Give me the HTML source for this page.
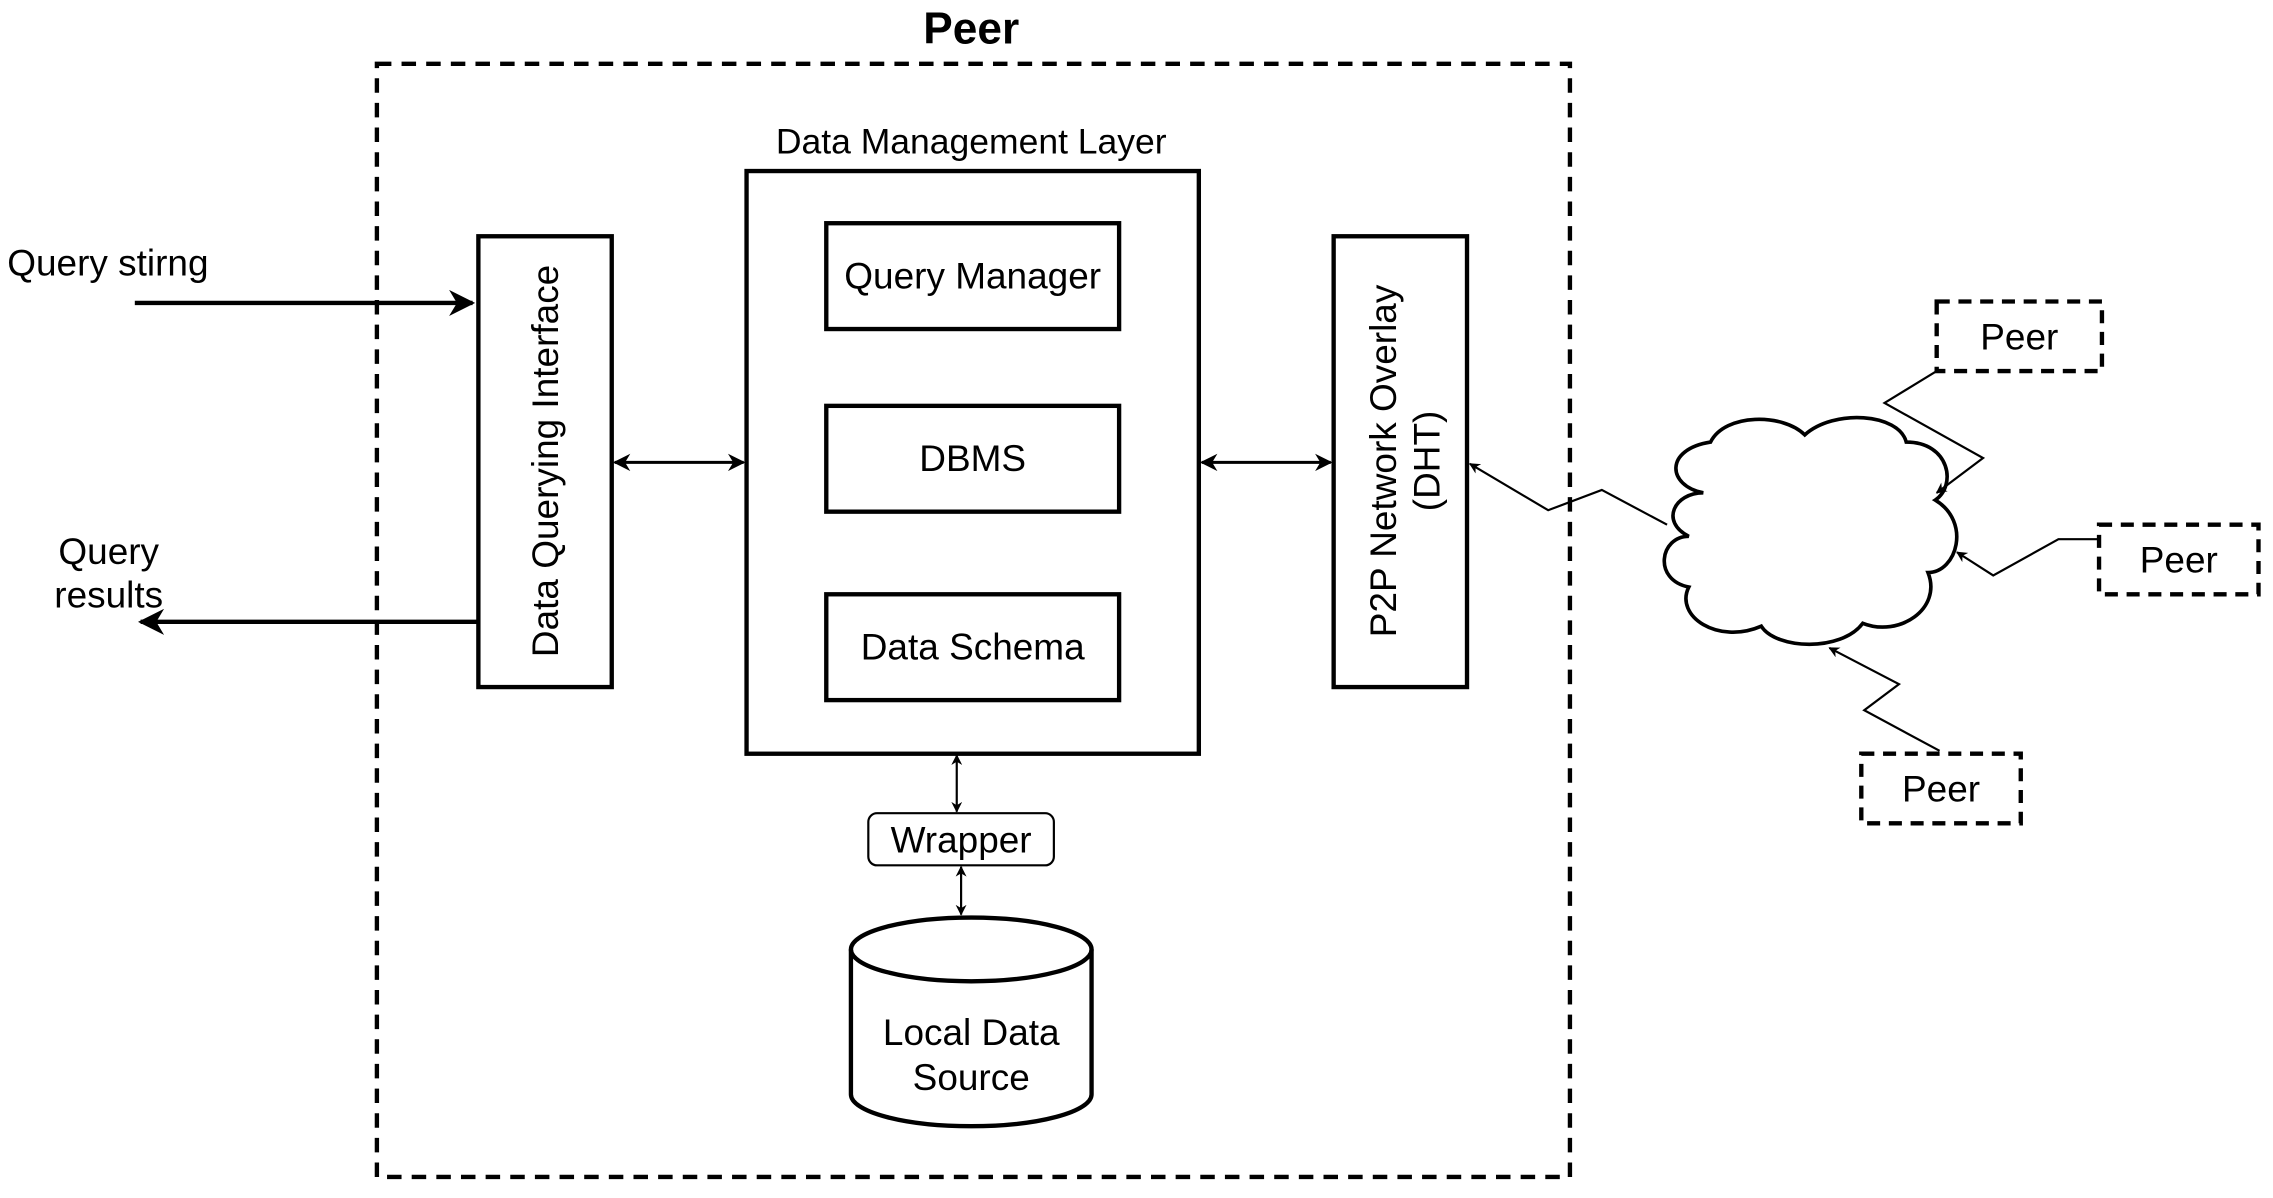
<!DOCTYPE html>
<html><head><meta charset="utf-8"><style>
html,body{margin:0;padding:0;background:#fff;}
svg{display:block;}
text{font-family:"Liberation Sans",Arial,sans-serif;fill:#000;}
</style></head><body>
<svg width="2273" height="1198" viewBox="0 0 1568 826.5" preserveAspectRatio="none" xmlns="http://www.w3.org/2000/svg">
<defs>
<marker id="a" viewBox="0 0 10 10" refX="9" refY="5" markerWidth="6" markerHeight="6" orient="auto-start-reverse"><path d="M0,0 L10,5 L0,10 L3,5 z" fill="#000"/></marker>
<marker id="b" viewBox="0 0 10 10" refX="9" refY="5" markerWidth="5" markerHeight="5" orient="auto-start-reverse"><path d="M0,0 L10,5 L0,10 L3,5 z" fill="#000"/></marker>
</defs>
<rect width="1568" height="826.5" fill="#fff"/>
<text x="670" y="30" font-size="30.5" font-weight="bold" text-anchor="middle">Peer</text>
<rect x="260" y="44" width="823" height="768" fill="none" stroke="#000" stroke-width="3" stroke-dasharray="10 7"/>
<text x="670" y="106" font-size="24.5" text-anchor="middle">Data Management Layer</text>
<rect x="515" y="118" width="312" height="402" fill="none" stroke="#000" stroke-width="3"/>
<rect x="570" y="154" width="202" height="73" fill="none" stroke="#000" stroke-width="3"/>
<text x="671" y="199" font-size="25.5" text-anchor="middle">Query Manager</text>
<rect x="570" y="280" width="202" height="73" fill="none" stroke="#000" stroke-width="3"/>
<text x="671" y="325" font-size="25.5" text-anchor="middle">DBMS</text>
<rect x="570" y="410" width="202" height="73" fill="none" stroke="#000" stroke-width="3"/>
<text x="671" y="455" font-size="25.5" text-anchor="middle">Data Schema</text>
<rect x="330" y="163" width="92" height="311" fill="none" stroke="#000" stroke-width="3"/>
<text transform="translate(385,318) rotate(-90)" font-size="25.5" text-anchor="middle">Data Querying Interface</text>
<rect x="920" y="163" width="92" height="311" fill="none" stroke="#000" stroke-width="3"/>
<text transform="translate(963,318) rotate(-90)" font-size="25.5" text-anchor="middle">P2P Network Overlay</text>
<text transform="translate(993,318) rotate(-90)" font-size="25.5" text-anchor="middle">(DHT)</text>
<line x1="424" y1="319" x2="513" y2="319" stroke="#000" stroke-width="2" marker-start="url(#a)" marker-end="url(#a)"/>
<line x1="829" y1="319" x2="918" y2="319" stroke="#000" stroke-width="2" marker-start="url(#a)" marker-end="url(#a)"/>
<text x="5" y="190" font-size="25.5">Query stirng</text>
<line x1="93" y1="209" x2="326" y2="209" stroke="#000" stroke-width="3" marker-end="url(#a)"/>
<text x="75" y="389" font-size="25.5" text-anchor="middle">Query</text>
<text x="75" y="419" font-size="25.5" text-anchor="middle">results</text>
<line x1="330" y1="429" x2="97" y2="429" stroke="#000" stroke-width="3" marker-end="url(#a)"/>
<rect x="599" y="561" width="128" height="36" rx="6" fill="none" stroke="#000" stroke-width="1.5"/>
<text x="663" y="588" font-size="25.5" text-anchor="middle">Wrapper</text>
<line x1="660" y1="521" x2="660" y2="560" stroke="#000" stroke-width="1.5" marker-start="url(#b)" marker-end="url(#b)"/>
<line x1="663" y1="598" x2="663" y2="631" stroke="#000" stroke-width="1.5" marker-start="url(#b)" marker-end="url(#b)"/>
<path d="M587,655 A83,22 0 0 1 753,655 L753,755 A83,22 0 0 1 587,755 Z" fill="#fff" stroke="#000" stroke-width="3"/>
<path d="M587,655 A83,22 0 0 0 753,655" fill="none" stroke="#000" stroke-width="3"/>
<text x="670" y="721" font-size="25.5" text-anchor="middle">Local Data</text>
<text x="670" y="752" font-size="25.5" text-anchor="middle">Source</text>
<path d="M1175,340 C1150,335 1148,310 1180,305 C1190,285 1230,285 1245,300 C1265,282 1310,285 1315,305 C1345,305 1350,335 1335,345 C1360,360 1350,395 1330,395 C1340,420 1310,440 1285,430 C1270,450 1225,448 1215,432 C1185,445 1155,425 1165,405 C1140,400 1145,370 1165,370 C1145,360 1155,340 1175,340 Z" fill="#fff" stroke="#000" stroke-width="2.5"/>
<polyline points="1150,362 1105,338 1068,352 1014,320" fill="none" stroke="#000" stroke-width="1.5" marker-end="url(#b)"/>
<polyline points="1336,256 1300,278 1368,316 1336,340" fill="none" stroke="#000" stroke-width="1.5" marker-end="url(#b)"/>
<polyline points="1448,372 1420,372 1375,397 1350,381" fill="none" stroke="#000" stroke-width="1.5" marker-end="url(#b)"/>
<polyline points="1338,518 1286,490 1310,472 1262,447" fill="none" stroke="#000" stroke-width="1.5" marker-end="url(#b)"/>
<rect x="1336" y="208" width="114" height="48" fill="#fff" stroke="#000" stroke-width="3" stroke-dasharray="9 6"/>
<text x="1393" y="241" font-size="25.5" text-anchor="middle">Peer</text>
<rect x="1448" y="362" width="110" height="48" fill="#fff" stroke="#000" stroke-width="3" stroke-dasharray="9 6"/>
<text x="1503" y="395" font-size="25.5" text-anchor="middle">Peer</text>
<rect x="1284" y="520" width="110" height="48" fill="#fff" stroke="#000" stroke-width="3" stroke-dasharray="9 6"/>
<text x="1339" y="553" font-size="25.5" text-anchor="middle">Peer</text>
</svg>
</body></html>
